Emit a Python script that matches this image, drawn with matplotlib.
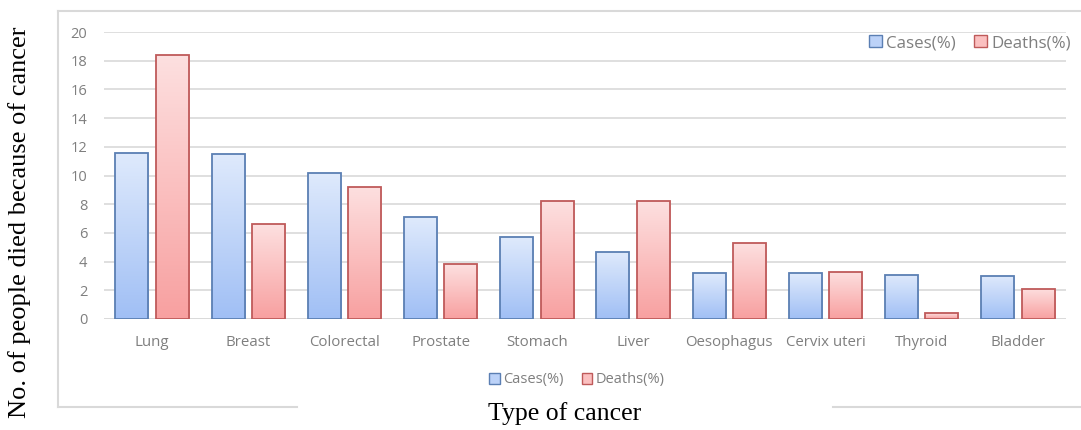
import numpy as np
import matplotlib
matplotlib.use("Agg")
import matplotlib.pyplot as plt
from matplotlib.colors import LinearSegmentedColormap
from matplotlib.patches import Rectangle
from matplotlib.lines import Line2D

categories = ["Lung", "Breast", "Colorectal", "Prostate", "Stomach", "Liver",
              "Oesophagus", "Cervix uteri", "Thyroid", "Bladder"]
cases = [11.6, 11.5, 10.2, 7.1, 5.7, 4.7, 3.2, 3.2, 3.1, 3.0]
deaths = [18.4, 6.6, 9.2, 3.8, 8.2, 8.2, 5.3, 3.3, 0.4, 2.1]
yticks = [0, 2, 4, 6, 8, 10, 12, 14, 16, 18, 20]
series_names = ["Cases(%)", "Deaths(%)"]

W, H = 1081, 430
fig = plt.figure(figsize=(W / 100, H / 100), dpi=100)
fig.patch.set_facecolor("white")

ax = fig.add_axes([104 / W, (H - 319) / H, (1066 - 104) / W, (319 - 32) / H])
ax.set_xlim(-0.5, len(categories) - 0.5)
ax.set_ylim(0, 20)

grid_c = "#d9d9d9"
for s in ax.spines.values():
    s.set_visible(False)
ax.set_yticks(yticks)
ax.yaxis.grid(True, color=grid_c, linewidth=1.2)
ax.set_axisbelow(True)
ax.axhline(0, color=grid_c, linewidth=1.2, zorder=1)
ax.tick_params(axis="y", length=0, pad=12, labelsize=10.5, labelcolor="#7f7f7f")
ax.tick_params(axis="x", length=0, pad=11.5, labelsize=10.8, labelcolor="#7f7f7f")
ax.set_xticks(range(len(categories)))
ax.set_xticklabels(categories)
for lbl in ax.get_xticklabels() + ax.get_yticklabels():
    lbl.set_family("Open Sans")

blue_cmap = LinearSegmentedColormap.from_list("b", ["#a0bff5", "#dfeafc"])
red_cmap = LinearSegmentedColormap.from_list("r", ["#f8a0a0", "#fde0e0"])
blue_edge = "#5b7fb3"
red_edge = "#bf5a5a"

width = 0.345
off = 0.21
grad = np.linspace(0, 1, 256).reshape(-1, 1)

def gbar(x, h, cmap, edge):
    rect = Rectangle((x - width / 2, 0), width, h, facecolor="none",
                     edgecolor=edge, linewidth=1.3, zorder=3)
    ax.add_patch(rect)
    im = ax.imshow(grad, cmap=cmap, origin="lower", aspect="auto",
                   extent=(x - width / 2, x + width / 2, 0, h), zorder=2)
    clip = Rectangle((x - width / 2, 0), width, h, transform=ax.transData)
    im.set_clip_path(clip)

for i in range(len(categories)):
    gbar(i - off, cases[i], blue_cmap, blue_edge)
    gbar(i + off, deaths[i], red_cmap, red_edge)
ax.set_xlim(-0.5, len(categories) - 0.5)
ax.set_ylim(0, 20)

handles = [Rectangle((0, 0), 1, 1, facecolor="#bcd2f8", edgecolor=blue_edge, linewidth=1.0),
           Rectangle((0, 0), 1, 1, facecolor="#fbc0c0", edgecolor=red_edge, linewidth=1.0)]

leg1 = fig.legend(handles, series_names, loc="center", bbox_to_anchor=(970 / W, 1 - 43 / H),
                  ncol=2, frameon=False, handlelength=0.75, handleheight=0.75,
                  handletextpad=0.25, columnspacing=1.1,
                  prop={"family": "Open Sans", "size": 12.2})
for t in leg1.get_texts():
    t.set_color("#7f7f7f")

leg2 = fig.legend(handles, series_names, loc="center", bbox_to_anchor=(577 / W, 1 - 380 / H),
                  ncol=2, frameon=False, handlelength=0.75, handleheight=0.75,
                  handletextpad=0.25, columnspacing=1.2,
                  prop={"family": "Open Sans", "size": 10.5})
for t in leg2.get_texts():
    t.set_color("#7f7f7f")

# outer chart frame
fc = "#d9d9d9"
def fl(x0, y0, x1, y1):
    fig.add_artist(Line2D([x0 / W, x1 / W], [1 - y0 / H, 1 - y1 / H],
                          color=fc, linewidth=1.5, transform=fig.transFigure))
fl(58, 11, 1081, 11)
fl(58, 11, 58, 407)
fl(58, 407, 297, 407)
fl(833, 407, 1081, 407)

fig.text(20 / W, 1 - 222 / H, "No. of people died because of cancer", rotation=90,
         ha="center", va="center", family="Liberation Serif", fontsize=19, color="black")
fig.text(565 / W, 1 - 414 / H, "Type of cancer", ha="center", va="center",
         family="Liberation Serif", fontsize=18.5, color="black")

fig.savefig("out.png", dpi=100, facecolor="white")
